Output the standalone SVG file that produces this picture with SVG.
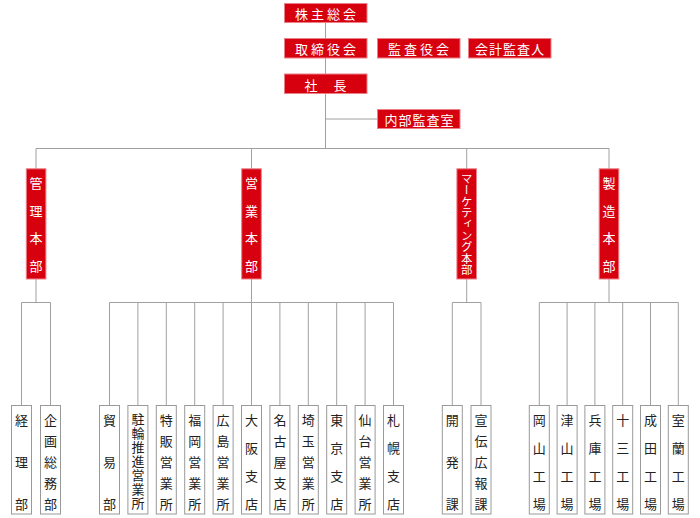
<svg xmlns="http://www.w3.org/2000/svg" width="700" height="518" viewBox="0 0 700 518">
<style>
.r{fill:#d7000f;stroke:#ec8088;stroke-width:1}
.w{fill:#fff;stroke:#999;stroke-width:1}
.tr{fill:#fff;font-family:"Noto Sans CJK JP","Noto Sans",sans-serif;font-size:13px;text-anchor:middle;dominant-baseline:central}
.tb{fill:#222;font-family:"Noto Sans CJK JP","Noto Sans",sans-serif;font-size:13px;text-anchor:middle;dominant-baseline:central}
.ln{stroke:#a0a0a0;stroke-width:1;fill:none}
</style>
<rect width="700" height="518" fill="#fff"/>
<g id="connectors" class="ln">
<path d="M325.5 23V148.5M325.5 119H377.5M36 148.5H609M36 148.5V169M251.5 148.5V169M466.7 148.5V169M609 148.5V169"/>
<path d="M36 279V302.5M251.5 279V302.5M466.7 279V302.5M609 279V302.5"/>
<path d="M21.5 302.5H50.5M21.5 302.5V405.5M50.5 302.5V405.5"/>
<path d="M109.5 302.5H393.5M109.5 302.5V405.5M137.9 302.5V405.5M166.3 302.5V405.5M194.7 302.5V405.5M223.1 302.5V405.5M251.5 302.5V405.5M279.9 302.5V405.5M308.3 302.5V405.5M336.7 302.5V405.5M365.1 302.5V405.5M393.5 302.5V405.5"/>
<path d="M452.3 302.5H481M452.3 302.5V405.5M481 302.5V405.5"/>
<path d="M539.3 302.5H678.3M539.3 302.5V405.5M567.1 302.5V405.5M594.9 302.5V405.5M622.7 302.5V405.5M650.5 302.5V405.5M678.3 302.5V405.5"/>
</g>
<g id="kabunushi"><rect class="r" x="284.5" y="3.5" width="82.5" height="19"/><text class="tr" x="327" y="13" letter-spacing="3">株主総会</text></g>
<g id="torishimariyaku"><rect class="r" x="284.5" y="38.5" width="82.5" height="19.5"/><text class="tr" x="327" y="48.2" letter-spacing="3">取締役会</text></g>
<g id="kansayaku"><rect class="r" x="377.5" y="38.5" width="82.5" height="19.5"/><text class="tr" x="420" y="48.2" letter-spacing="3">監査役会</text></g>
<g id="kaikei"><rect class="r" x="468.5" y="38.5" width="82.5" height="19.5"/><text class="tr" x="510" y="48.2" letter-spacing="1">会計監査人</text></g>
<g id="shacho"><rect class="r" x="284.5" y="74" width="82.5" height="19.5"/><text class="tr" y="83.7"><tspan x="311">社</tspan><tspan x="340">長</tspan></text></g>
<g id="naibu"><rect class="r" x="377.5" y="109.5" width="82.5" height="19"/><text class="tr" x="419.5" y="119" letter-spacing="1">内部監査室</text></g>
<g id="kanri"><rect class="r" x="26.3" y="168.8" width="19.6" height="110.2"/><text class="tr"><tspan x="36" y="181.7">管</tspan><tspan x="36" y="209.5">理</tspan><tspan x="36" y="237.3">本</tspan><tspan x="36" y="265">部</tspan></text></g>
<g id="eigyo"><rect class="r" x="241.7" y="168.8" width="19.6" height="110.2"/><text class="tr"><tspan x="251.5" y="181.7">営</tspan><tspan x="251.5" y="209.5">業</tspan><tspan x="251.5" y="237.3">本</tspan><tspan x="251.5" y="265">部</tspan></text></g>
<g id="marketing"><rect class="r" x="456.9" y="168.8" width="19.6" height="110.2"/><text x="466.7" y="224" fill="#fff" font-family="'Noto Sans CJK JP',sans-serif" font-size="11.4" text-anchor="middle" writing-mode="vertical-rl">マーケティング本部</text></g>
<g id="seizo"><rect class="r" x="599.2" y="168.8" width="19.6" height="110.2"/><text class="tr"><tspan x="609" y="181.7">製</tspan><tspan x="609" y="209.5">造</tspan><tspan x="609" y="237.3">本</tspan><tspan x="609" y="265">部</tspan></text></g>
<g id="keiri"><rect class="w" x="11.5" y="405.5" width="20" height="108.5"/><text class="tb"><tspan x="21.5" y="419.3">経</tspan><tspan x="21.5" y="461.3">理</tspan><tspan x="21.5" y="503.3">部</tspan></text></g>
<g id="kikaku"><rect class="w" x="40.5" y="405.5" width="20" height="108.5"/><text class="tb"><tspan x="50.5" y="419.3">企</tspan><tspan x="50.5" y="440.3">画</tspan><tspan x="50.5" y="461.3">総</tspan><tspan x="50.5" y="482.3">務</tspan><tspan x="50.5" y="503.3">部</tspan></text></g>
<g id="boeki"><rect class="w" x="99.5" y="405.5" width="20" height="108.5"/><text class="tb"><tspan x="109.5" y="419.3">貿</tspan><tspan x="109.5" y="461.3">易</tspan><tspan x="109.5" y="503.3">部</tspan></text></g>
<g id="churin"><rect class="w" x="127.9" y="405.5" width="20" height="108.5"/><text x="137.9" y="412.3" fill="#222" font-family="'Noto Sans CJK JP',sans-serif" font-size="13" letter-spacing="1" writing-mode="vertical-rl">駐輪推進営業所</text></g>
<g id="tokuhan"><rect class="w" x="156.3" y="405.5" width="20" height="108.5"/><text class="tb"><tspan x="166.3" y="419.3">特</tspan><tspan x="166.3" y="440.3">販</tspan><tspan x="166.3" y="461.3">営</tspan><tspan x="166.3" y="482.3">業</tspan><tspan x="166.3" y="503.3">所</tspan></text></g>
<g id="fukuoka"><rect class="w" x="184.7" y="405.5" width="20" height="108.5"/><text class="tb"><tspan x="194.7" y="419.3">福</tspan><tspan x="194.7" y="440.3">岡</tspan><tspan x="194.7" y="461.3">営</tspan><tspan x="194.7" y="482.3">業</tspan><tspan x="194.7" y="503.3">所</tspan></text></g>
<g id="hiroshima"><rect class="w" x="213.1" y="405.5" width="20" height="108.5"/><text class="tb"><tspan x="223.1" y="419.3">広</tspan><tspan x="223.1" y="440.3">島</tspan><tspan x="223.1" y="461.3">営</tspan><tspan x="223.1" y="482.3">業</tspan><tspan x="223.1" y="503.3">所</tspan></text></g>
<g id="osaka"><rect class="w" x="241.5" y="405.5" width="20" height="108.5"/><text class="tb"><tspan x="251.5" y="419.3">大</tspan><tspan x="251.5" y="447.3">阪</tspan><tspan x="251.5" y="475.3">支</tspan><tspan x="251.5" y="503.3">店</tspan></text></g>
<g id="nagoya"><rect class="w" x="269.9" y="405.5" width="20" height="108.5"/><text class="tb"><tspan x="279.9" y="419.3">名</tspan><tspan x="279.9" y="440.3">古</tspan><tspan x="279.9" y="461.3">屋</tspan><tspan x="279.9" y="482.3">支</tspan><tspan x="279.9" y="503.3">店</tspan></text></g>
<g id="saitama"><rect class="w" x="298.3" y="405.5" width="20" height="108.5"/><text class="tb"><tspan x="308.3" y="419.3">埼</tspan><tspan x="308.3" y="440.3">玉</tspan><tspan x="308.3" y="461.3">営</tspan><tspan x="308.3" y="482.3">業</tspan><tspan x="308.3" y="503.3">所</tspan></text></g>
<g id="tokyo"><rect class="w" x="326.7" y="405.5" width="20" height="108.5"/><text class="tb"><tspan x="336.7" y="419.3">東</tspan><tspan x="336.7" y="447.3">京</tspan><tspan x="336.7" y="475.3">支</tspan><tspan x="336.7" y="503.3">店</tspan></text></g>
<g id="sendai"><rect class="w" x="355.1" y="405.5" width="20" height="108.5"/><text class="tb"><tspan x="365.1" y="419.3">仙</tspan><tspan x="365.1" y="440.3">台</tspan><tspan x="365.1" y="461.3">営</tspan><tspan x="365.1" y="482.3">業</tspan><tspan x="365.1" y="503.3">所</tspan></text></g>
<g id="sapporo"><rect class="w" x="383.5" y="405.5" width="20" height="108.5"/><text class="tb"><tspan x="393.5" y="419.3">札</tspan><tspan x="393.5" y="447.3">幌</tspan><tspan x="393.5" y="475.3">支</tspan><tspan x="393.5" y="503.3">店</tspan></text></g>
<g id="kaihatsu"><rect class="w" x="442.3" y="405.5" width="20" height="108.5"/><text class="tb"><tspan x="452.3" y="419.3">開</tspan><tspan x="452.3" y="461.3">発</tspan><tspan x="452.3" y="503.3">課</tspan></text></g>
<g id="senden"><rect class="w" x="471" y="405.5" width="20" height="108.5"/><text class="tb"><tspan x="481" y="419.3">宣</tspan><tspan x="481" y="440.3">伝</tspan><tspan x="481" y="461.3">広</tspan><tspan x="481" y="482.3">報</tspan><tspan x="481" y="503.3">課</tspan></text></g>
<g id="okayama"><rect class="w" x="529.3" y="405.5" width="20" height="108.5"/><text class="tb"><tspan x="539.3" y="419.3">岡</tspan><tspan x="539.3" y="447.3">山</tspan><tspan x="539.3" y="475.3">工</tspan><tspan x="539.3" y="503.3">場</tspan></text></g>
<g id="tsuyama"><rect class="w" x="557.1" y="405.5" width="20" height="108.5"/><text class="tb"><tspan x="567.1" y="419.3">津</tspan><tspan x="567.1" y="447.3">山</tspan><tspan x="567.1" y="475.3">工</tspan><tspan x="567.1" y="503.3">場</tspan></text></g>
<g id="hyogo"><rect class="w" x="584.9" y="405.5" width="20" height="108.5"/><text class="tb"><tspan x="594.9" y="419.3">兵</tspan><tspan x="594.9" y="447.3">庫</tspan><tspan x="594.9" y="475.3">工</tspan><tspan x="594.9" y="503.3">場</tspan></text></g>
<g id="juso"><rect class="w" x="612.7" y="405.5" width="20" height="108.5"/><text class="tb"><tspan x="622.7" y="419.3">十</tspan><tspan x="622.7" y="447.3">三</tspan><tspan x="622.7" y="475.3">工</tspan><tspan x="622.7" y="503.3">場</tspan></text></g>
<g id="narita"><rect class="w" x="640.5" y="405.5" width="20" height="108.5"/><text class="tb"><tspan x="650.5" y="419.3">成</tspan><tspan x="650.5" y="447.3">田</tspan><tspan x="650.5" y="475.3">工</tspan><tspan x="650.5" y="503.3">場</tspan></text></g>
<g id="muroran"><rect class="w" x="668.3" y="405.5" width="20" height="108.5"/><text class="tb"><tspan x="678.3" y="419.3">室</tspan><tspan x="678.3" y="447.3">蘭</tspan><tspan x="678.3" y="475.3">工</tspan><tspan x="678.3" y="503.3">場</tspan></text></g>
</svg>
